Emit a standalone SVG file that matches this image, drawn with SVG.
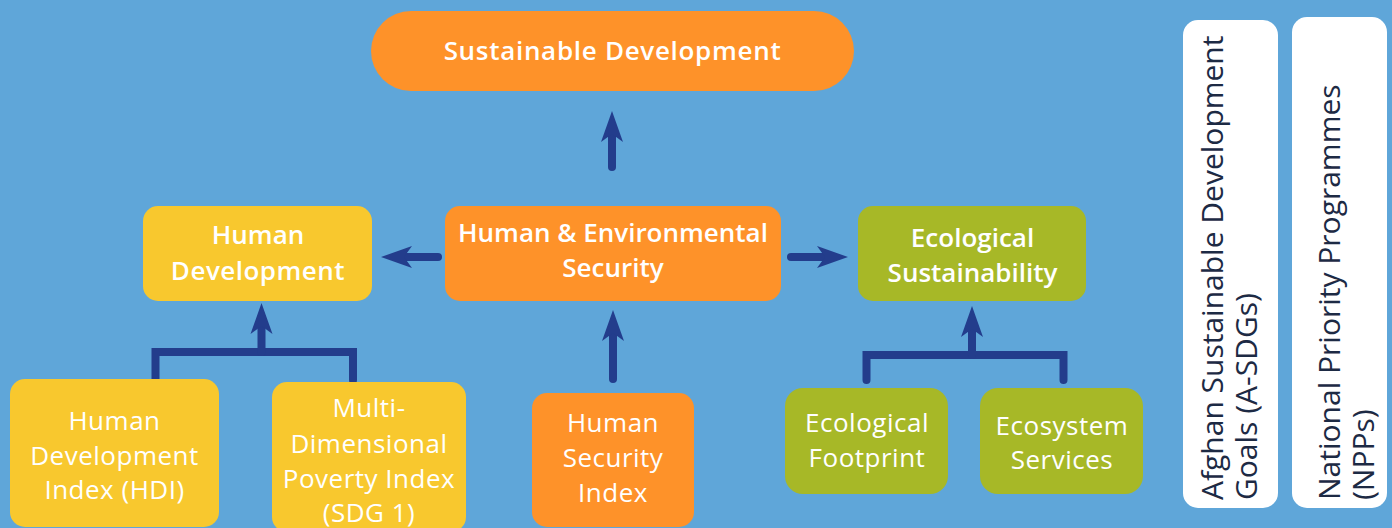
<svg xmlns="http://www.w3.org/2000/svg" width="1392" height="528" viewBox="0 0 1392 528">
<defs>
<style>
.bg{fill:#5fa6d9}
.or{fill:#fe9229}
.ye{fill:#f8c82e}
.gr{fill:#a7b827}
.wh{fill:#ffffff}
.t{font-family:"Open Sans","Noto Sans","Liberation Sans",sans-serif;font-size:26px;fill:#ffffff;text-anchor:middle}
.b{font-weight:600}
.side{font-family:"Open Sans","Noto Sans","Liberation Sans",sans-serif;font-size:30px;fill:#1d2a44}
.c{fill:none;stroke:#233d8c;stroke-width:8;stroke-linecap:round;stroke-linejoin:miter}
</style>
<marker id="ah" markerUnits="userSpaceOnUse" markerWidth="40" markerHeight="30" refX="8" refY="11" orient="auto" overflow="visible">
<path d="M0,0 L31,11 L0,22 L8,11 Z" fill="#233d8c"/>
</marker>
</defs>
<rect class="bg" x="0" y="0" width="1392" height="528"/>

<g id="connectors">
<line class="c" x1="612" y1="167" x2="612" y2="134" marker-end="url(#ah)"/>
<line class="c" x1="613" y1="379" x2="613" y2="333" marker-end="url(#ah)"/>
<line class="c" x1="438" y1="257" x2="404" y2="257" marker-end="url(#ah)"/>
<line class="c" x1="791" y1="257" x2="825" y2="257" marker-end="url(#ah)"/>
<path class="c" d="M155.5,380 V352 H353 V380"/>
<line class="c" x1="261.5" y1="352" x2="261.5" y2="326" marker-end="url(#ah)"/>
<path class="c" d="M866.5,380 V355 H1063.5 V380"/>
<line class="c" x1="972" y1="355" x2="972" y2="329" marker-end="url(#ah)"/>
</g>

<g id="sustainable-development">
<rect class="or" x="371" y="11" width="483" height="80" rx="40"/>
<text class="t b" x="612.5" y="60" letter-spacing="0.7">Sustainable Development</text>
</g>

<g id="human-environmental-security">
<rect class="or" x="445" y="206" width="336" height="95" rx="15"/>
<text class="t b" x="613" y="242">Human &amp; Environmental</text>
<text class="t b" x="613" y="277">Security</text>
</g>

<g id="human-development">
<rect class="ye" x="143" y="206" width="229" height="95" rx="15"/>
<text class="t b" x="258" y="244">Human</text>
<text class="t b" x="258" y="280" letter-spacing="0.5">Development</text>
</g>

<g id="ecological-sustainability">
<rect class="gr" x="858" y="206" width="228" height="95" rx="15"/>
<text class="t b" x="972.5" y="247">Ecological</text>
<text class="t b" x="972.5" y="282">Sustainability</text>
</g>

<g id="hdi">
<rect class="ye" x="10" y="379" width="209" height="148" rx="15"/>
<text class="t" x="114.5" y="430" letter-spacing="0.5">Human</text>
<text class="t" x="114.5" y="465" letter-spacing="0.5">Development</text>
<text class="t" x="114.5" y="499" letter-spacing="0.5">Index (HDI)</text>
</g>

<g id="mpi">
<rect class="ye" x="272" y="382" width="194" height="150" rx="15"/>
<text class="t" x="369" y="417" letter-spacing="0.5">Multi-</text>
<text class="t" x="369" y="453" letter-spacing="0.5">Dimensional</text>
<text class="t" x="369" y="488" letter-spacing="0.5">Poverty Index</text>
<text class="t" x="369" y="522" letter-spacing="0.5">(SDG 1)</text>
</g>

<g id="hsi">
<rect class="or" x="532" y="393" width="162" height="134" rx="15"/>
<text class="t" x="613" y="432" letter-spacing="0.5">Human</text>
<text class="t" x="613" y="467" letter-spacing="0.5">Security</text>
<text class="t" x="613" y="502" letter-spacing="0.5">Index</text>
</g>

<g id="ecological-footprint">
<rect class="gr" x="785" y="388" width="163" height="106" rx="18"/>
<text class="t" x="867" y="432" letter-spacing="0.5">Ecological</text>
<text class="t" x="867" y="467" letter-spacing="0.5">Footprint</text>
</g>

<g id="ecosystem-services">
<rect class="gr" x="980" y="388" width="163" height="106" rx="18"/>
<text class="t" x="1062" y="435" letter-spacing="0.5">Ecosystem</text>
<text class="t" x="1062" y="469" letter-spacing="0.5">Services</text>
</g>

<g id="a-sdgs">
<rect class="wh" x="1183" y="20" width="95" height="488" rx="15"/>
<text class="side" transform="translate(1223,500) rotate(-90)">Afghan Sustainable Development</text>
<text class="side" transform="translate(1257,500) rotate(-90)">Goals (A-SDGs)</text>
</g>

<g id="npps">
<rect class="wh" x="1292" y="17" width="95" height="491" rx="15"/>
<text class="side" transform="translate(1340,500) rotate(-90)">National Priority Programmes</text>
<text class="side" transform="translate(1374,500) rotate(-90)">(NPPs)</text>
</g>
</svg>
